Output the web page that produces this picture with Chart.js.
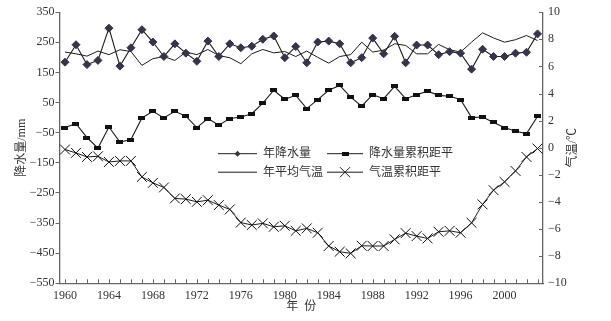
<!DOCTYPE html>
<html><head><meta charset="utf-8">
<script src="https://cdn.jsdelivr.net/npm/chart.js@4"></script>
<style>html,body{margin:0;padding:0;background:#fff}#wrap{width:611px;height:321px;position:relative}</style>
</head><body><div id="wrap"><canvas id="c"></canvas></div>
<script>
const years = ['1960','1961','1962','1963','1964','1965','1966','1967','1968','1969','1970','1971','1972','1973','1974','1975','1976','1977','1978','1979','1980','1981','1982','1983','1984','1985','1986','1987','1988','1989','1990','1991','1992','1993','1994','1995','1996','1997','1998','1999','2000','2001','2002','2003'];
const precip = [184,242,176,190,297,171,232,292,251,203,245,214,187,254,203,245,232,237,260,271,199,236,182,251,254,245,182,199,264,212,270,182,241,241,209,219,214,161,227,203,203,214,217,278];
const precipCum = [-33,-20,-66,-101,-31,-81,-73,-1,21,-1,21,5,-33,-3,-25,-3,2,13,48,91,61,74,30,60,91,107,68,38,76,63,104,63,76,88,74,71,60,0,2,-16,-33,-45,-53,4];
const tempMean = [7.06,6.93,6.76,7.13,6.87,7.23,7.10,6.08,6.57,6.73,6.44,7.06,6.87,7.25,6.80,6.64,6.20,6.93,7.25,7.00,7.10,6.73,7.13,6.67,6.24,6.73,6.87,7.79,7.06,7.20,7.67,7.55,6.93,6.93,7.62,7.23,7.06,7.79,8.48,8.10,7.79,7.97,8.28,7.91];
const tempCum = [-0.13,-0.38,-0.68,-0.63,-1.05,-0.97,-0.97,-2.15,-2.59,-2.93,-3.74,-3.79,-3.99,-3.87,-4.23,-4.55,-5.52,-5.70,-5.58,-5.83,-5.76,-6.13,-5.95,-6.27,-7.25,-7.67,-7.79,-7.23,-7.25,-7.25,-6.76,-6.30,-6.52,-6.69,-6.20,-6.13,-6.27,-5.54,-4.18,-3.13,-2.52,-1.71,-0.68,-0.06];
const seriesNames = ['年降水量','降水量累积距平','年平均气温','气温累积距平'];
const xTitle = '年\u2002份';
const yLeftTitle = '降水量/mm';
const yRightTitle = '气温/℃';
const labelEvery = 4;

const FONT = '"Liberation Serif", "Noto Sans CJK SC", serif';
const LINE = '#1c1c1c';
const DIAM = '#34344a';
const AXIS = '#666';
const TEXT = '#333';

const bar = document.createElement('canvas');
bar.width = 7; bar.height = 4;
(function(){const b = bar.getContext('2d'); b.fillStyle = '#111'; b.fillRect(0,0,7,4);})();

const minus = v => String(v).replace('-', '\u2212');

const inwardTicks = {
  id: 'inwardTicks',
  afterDraw(chart) {
    const ctx = chart.ctx, x = chart.scales.x, y2 = chart.scales.y2;
    ctx.save();
    ctx.strokeStyle = AXIS; ctx.lineWidth = 1;
    ctx.beginPath();
    for (let i = 0; i < years.length; i++) {
      const px = Math.round(x.getPixelForTick(i)) + 0.5;
      ctx.moveTo(px, x.top); ctx.lineTo(px, x.top - 4);
    }
    y2.ticks.forEach((t, i) => {
      const py = Math.round(y2.getPixelForTick(i)) + 0.5;
      ctx.moveTo(y2.left, py); ctx.lineTo(y2.left - 4, py);
    });
    ctx.stroke();
    ctx.restore();
  }
};

const customLegend = {
  id: 'customLegend',
  afterDraw(chart) {
    const ctx = chart.ctx, a = chart.chartArea;
    const rows = [a.top + 141.5, a.top + 160];
    const cols = [a.left + 158.5, a.left + 267.5];
    const lens = [39, 36];
    const items = [
      {t: seriesNames[0], c: 0, r: 0, m: 'diamond'},
      {t: seriesNames[1], c: 1, r: 0, m: 'bar'},
      {t: seriesNames[2], c: 0, r: 1, m: null},
      {t: seriesNames[3], c: 1, r: 1, m: 'x'}
    ];
    ctx.save();
    items.forEach(it => {
      const x0 = cols[it.c], y = rows[it.r], len = lens[it.c], cx = x0 + len / 2;
      ctx.strokeStyle = LINE; ctx.lineWidth = 1;
      ctx.beginPath(); ctx.moveTo(x0, y); ctx.lineTo(x0 + len, y); ctx.stroke();
      if (it.m === 'diamond') {
        ctx.fillStyle = DIAM;
        ctx.beginPath(); ctx.moveTo(cx - 3, y); ctx.lineTo(cx, y - 3); ctx.lineTo(cx + 3, y); ctx.lineTo(cx, y + 3); ctx.closePath(); ctx.fill();
      } else if (it.m === 'bar') {
        ctx.drawImage(bar, cx - 3.5, y - 2);
      } else if (it.m === 'x') {
        ctx.beginPath(); ctx.moveTo(cx - 5, y - 5); ctx.lineTo(cx + 5, y + 5); ctx.moveTo(cx + 5, y - 5); ctx.lineTo(cx - 5, y + 5); ctx.stroke();
      }
      ctx.fillStyle = TEXT; ctx.font = '12px ' + FONT;
      ctx.textAlign = 'left'; ctx.textBaseline = 'middle';
      ctx.fillText(it.t, x0 + len + 6, y + 0.5);
    });
    // right axis title, reading bottom-to-top
    const y2 = chart.scales.y2;
    ctx.translate(y2.left + 30, (a.top + a.bottom) / 2);
    ctx.rotate(-Math.PI / 2);
    ctx.textAlign = 'center';
    ctx.fillText(yRightTitle, 0, 0);
    ctx.restore();
  }
};

new Chart(document.getElementById('c'), {
  type: 'line',
  data: {
    labels: years,
    datasets: [
      {label: seriesNames[0], data: precip, yAxisID: 'y', borderColor: LINE, borderWidth: 1.1, pointStyle: 'rectRot', pointRadius: 4, pointBackgroundColor: DIAM, pointBorderColor: DIAM, pointBorderWidth: 1, tension: 0},
      {label: seriesNames[1], data: precipCum, yAxisID: 'y', borderColor: LINE, borderWidth: 1.1, pointStyle: bar, pointRadius: 3, tension: 0},
      {label: seriesNames[2], data: tempMean, yAxisID: 'y2', borderColor: LINE, borderWidth: 1, pointRadius: 0, tension: 0},
      {label: seriesNames[3], data: tempCum, yAxisID: 'y2', borderColor: LINE, borderWidth: 1, pointStyle: 'crossRot', pointRadius: 7, pointBorderColor: '#111', pointBorderWidth: 1, tension: 0}
    ]
  },
  options: {
    responsive: true, maintainAspectRatio: false, animation: false,
    devicePixelRatio: 1,
    layout: {padding: {top: 11.7, left: 0, right: 0, bottom: 0}},
    plugins: {legend: {display: false}, tooltip: {enabled: false}},
    scales: {
      x: {
        type: 'category', offset: true,
        grid: {display: false, drawTicks: false},
        border: {display: true, color: AXIS, width: 1.3},
        ticks: {autoSkip: false, maxRotation: 0, minRotation: 0, padding: 5, color: TEXT, font: {family: FONT, size: 12},
          callback: (v, i) => (i % labelEvery === 0 ? years[i] : '')},
        title: {display: true, text: xTitle, color: TEXT, font: {family: FONT, size: 12}, padding: {top: 0, bottom: 7}},
        afterFit: s => { s.height = 37.7; }
      },
      y: {
        position: 'left', min: -550, max: 350,
        grid: {drawOnChartArea: false, drawTicks: true, tickLength: 4, color: AXIS},
        border: {display: true, color: AXIS, width: 1.3},
        ticks: {stepSize: 100, padding: 1, color: TEXT, font: {family: FONT, size: 12}, callback: v => minus(v)},
        title: {display: true, text: yLeftTitle, color: TEXT, font: {family: FONT, size: 12}, padding: {top: 15, bottom: 0}},
        afterFit: s => { s.width = 59.5; }
      },
      y2: {
        position: 'right', min: -10, max: 10,
        grid: {display: false, drawTicks: false},
        border: {display: true, color: AXIS, width: 1.3},
        ticks: {stepSize: 2, padding: 5, color: TEXT, font: {family: FONT, size: 12}, callback: v => minus(v)},
        afterFit: s => { s.width = 68; }
      }
    }
  },
  plugins: [inwardTicks, customLegend]
});
</script></body></html>
